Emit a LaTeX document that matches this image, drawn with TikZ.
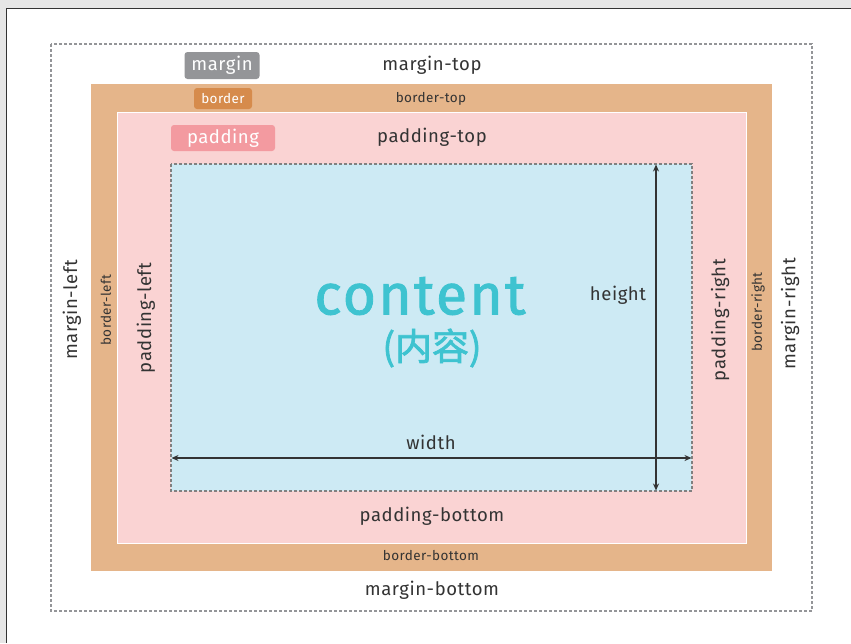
\documentclass[tikz,border=0pt]{standalone}
\usepackage{fontspec}
\setmainfont{Fira Sans}[LetterSpace=3]
\newfontfamily\cjkfont{Noto Sans CJK SC}[FakeBold=2]
\newfontfamily\widefont{Fira Sans}[LetterSpace=4, FakeBold=1.5]
\usetikzlibrary{arrows.meta}

\definecolor{pagegray}{HTML}{E6E6E6}
\definecolor{framegray}{HTML}{333333}
\definecolor{txtgray}{HTML}{333333}
\definecolor{margingray}{HTML}{949598}
\definecolor{borderfill}{HTML}{E5B58A}
\definecolor{borderbadge}{HTML}{D68B4C}
\definecolor{paddingfill}{HTML}{FAD3D3}
\definecolor{paddingbadge}{HTML}{F39AA0}
\definecolor{contentfill}{HTML}{CDEAF4}
\definecolor{contenttxt}{HTML}{3EC3D0}

\tikzset{
  lbl/.style={font=\fontsize{18.5}{18.5}\selectfont, text=txtgray, inner sep=0pt},
  smalllbl/.style={font=\fontsize{13.5}{13.5}\selectfont, text=txtgray, inner sep=0pt},
  badge/.style={rounded corners=3pt, text=white, inner sep=0pt},
  dots/.style={dash pattern=on 3pt off 2pt},
  dimarrow/.style={{Stealth[length=7pt,width=6pt]}-{Stealth[length=7pt,width=6pt]}, txtgray, line width=1.4pt}
}

\begin{document}
\begin{tikzpicture}[x=1pt, y=-1pt]
  \useasboundingbox (0,0) rectangle (851,643);

  % page background and frame
  \fill[pagegray] (0,0) rectangle (851,643);
  \fill[white] (6.5,8.5) rectangle (851,643);
  \draw[framegray, line width=1.2pt] (6.5,643) -- (6.5,8.5) -- (851,8.5);

  % margin, border, padding, content
  \draw[margingray, dots, line width=1.1pt] (51,44) rectangle (812,611);
  \fill[borderfill] (91,84) rectangle (772,571);
  \draw[white, line width=0.8pt, fill=paddingfill] (117,112) rectangle (746,543);
  \draw[gray, dots, line width=1.1pt, fill=contentfill] (171,164) rectangle (692,491);

  % badges
  \node[badge, fill=margingray, minimum width=75, minimum height=27,
        font=\fontsize{18.5}{18.5}\selectfont] (marginbadge) at (222,65.5) {margin};
  \node[badge, fill=borderbadge, minimum width=58, minimum height=21,
        font=\fontsize{13.5}{13.5}\selectfont] (borderbadge) at (223,98.5) {border};
  \node[badge, fill=paddingbadge, minimum width=104, minimum height=26,
        font=\fontsize{18.5}{18.5}\selectfont] (paddingbadge) at (223,138) {padding};

  % top and bottom labels
  \node[lbl] (margintop) at (432,65) {margin-top};
  \node[smalllbl] (bordertop) at (431,99) {border-top};
  \node[lbl] (paddingtop) at (432,137) {padding-top};
  \node[lbl] (paddingbottom) at (432,516) {padding-bottom};
  \node[smalllbl] (borderbottom) at (431,556) {border-bottom};
  \node[lbl] (marginbottom) at (432,590) {margin-bottom};

  % side labels
  \node[lbl, rotate=90] (marginleft) at (72,310) {margin-left};
  \node[smalllbl, rotate=90] (borderleft) at (106,310) {border-left};
  \node[lbl, rotate=90] (paddingleft) at (146,318) {padding-left};
  \node[lbl, rotate=90] (paddingright) at (720,320) {padding-right};
  \node[smalllbl, rotate=90] (borderright) at (758,312) {border-right};
  \node[lbl, rotate=90] (marginright) at (790,314) {margin-right};

  % content text
  \node[text=contenttxt, font=\widefont\fontsize{57}{57}\selectfont, inner sep=0pt] (contentword) at (420,296) {content};
  \node[text=contenttxt, font=\cjkfont\fontsize{37}{37}\selectfont, inner sep=0pt] (contentcjk) at (432,348) {(内容)};

  % height and width
  \coordinate (htop) at (656,164.5);
  \coordinate (hbot) at (656,490.5);
  \coordinate (wleft) at (171.5,458);
  \coordinate (wright) at (691.5,458);
  \draw[dimarrow] (htop) -- (hbot);
  \draw[dimarrow] (wleft) -- (wright);
  \node[lbl] (heightlbl) at (618,295) {height};
  \node[lbl] (widthlbl) at (431,442) {width};
\end{tikzpicture}
\end{document}
